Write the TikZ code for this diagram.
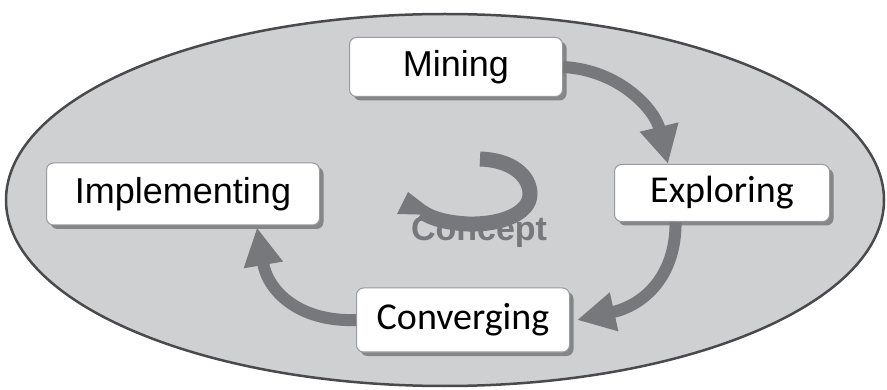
\documentclass[tikz,border=0pt]{standalone}
\usepackage{fontspec}
\newfontfamily\arialf{Liberation Sans}
\newfontfamily\calibrif{Carlito}
\usetikzlibrary{arrows.meta,shadows,calc}
\definecolor{ellfill}{HTML}{CFD0D2}
\definecolor{ellline}{HTML}{4A4A4C}
\definecolor{arrowgray}{HTML}{77787B}
\definecolor{boxline}{HTML}{9A9A9C}
\definecolor{shadowgray}{HTML}{858688}
\tikzset{
  stagebox/.style={draw=boxline, line width=1pt, fill=white, rounded corners=7pt,
    inner sep=0pt, anchor=center,
    drop shadow={shadow xshift=4pt, shadow yshift=-4pt, fill=shadowgray, opacity=1}},
  bigarrow/.style={draw=arrowgray, line width=12pt,
    -{Triangle[width=37pt,length=38pt]}},
  smallband/.style={draw=arrowgray, line width=15pt},
}
\begin{document}
\begin{tikzpicture}[x=1pt,y=-1pt]
\useasboundingbox (0,0) rectangle (887,390);
\fill[white] (0,0) rectangle (887,390);
\draw[fill=ellfill, draw=ellline, line width=2.5pt] (445,200) ellipse [x radius=439, y radius=186];
% nodes
\node[stagebox, minimum width=213pt, minimum height=59pt, font=\arialf\fontsize{36}{40}\selectfont] (mining) at (456,67) {Mining};
\node[stagebox, minimum width=215pt, minimum height=57pt, font=\calibrif\fontsize{38}{42}\selectfont] (exploring) at (722,193) {Exploring};
\node[stagebox, minimum width=273pt, minimum height=62pt, font=\arialf\fontsize{36}{40}\selectfont] (implementing) at (183,194) {Implementing};
\node[stagebox, minimum width=213pt, minimum height=64pt, font=\calibrif\fontsize{38}{42}\selectfont] (converging) at (463,320) {Converging};
% coordinates
\coordinate (mtip) at ($(exploring.north west)!0.25!(exploring.north east)$);
\coordinate (estart) at ($(exploring.south west)!0.285!(exploring.south east)$);
\coordinate (ctip) at ($(converging.east)+(7,0)$);
\coordinate (itip) at ($(implementing.south west)!0.77!(implementing.south east)+(0,2)$);
% cycle arrows
\draw[bigarrow] (mining.east) .. controls (620,70) and (655,110) .. (mtip);
\draw[bigarrow] (estart) .. controls (676,275) and (645,305) .. (ctip);
\draw[bigarrow] (converging.west) .. controls (300,322) and (268,292) .. (itip);
% central concept arrow
\coordinate (cstart) at (480,159);
\coordinate (cbase) at (422,212);
\coordinate (ctipc) at (408,192);
\draw[smallband] (cstart) .. controls (512,160) and (530,176) .. (530,194)
  .. controls (530,214) and (500,225) .. (468,224)
  .. controls (448,223) and (432,219) .. (cbase);
\fill[arrowgray] (ctipc) -- (397,214) -- (438,215) -- cycle;
\node[font=\arialf\bfseries\fontsize{34}{38}\selectfont, text=arrowgray] (concept) at (479,232) {Concept};
\end{tikzpicture}
\end{document}
